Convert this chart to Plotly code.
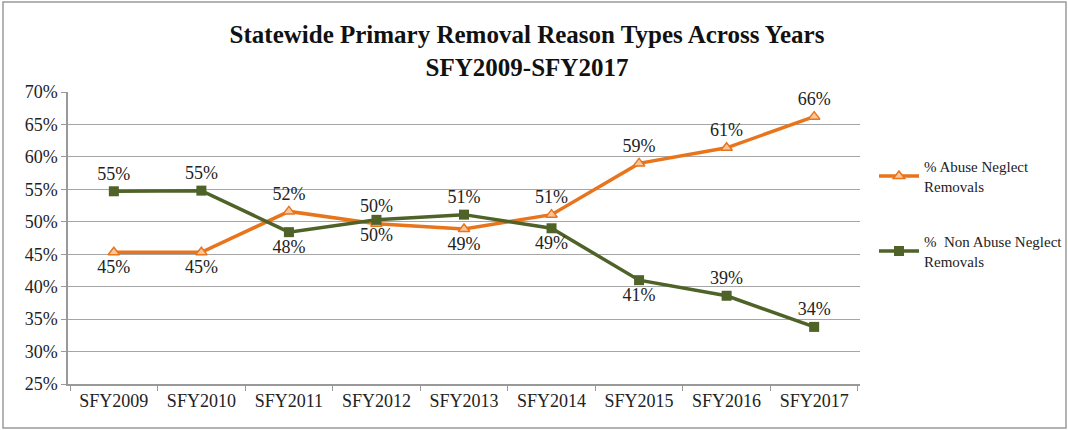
import plotly.graph_objects as go

years = ["SFY2009", "SFY2010", "SFY2011", "SFY2012", "SFY2013", "SFY2014", "SFY2015", "SFY2016", "SFY2017"]
abuse = [0.453, 0.453, 0.516, 0.497, 0.489, 0.511, 0.590, 0.614, 0.662]
non_abuse = [0.547, 0.548, 0.484, 0.503, 0.511, 0.490, 0.410, 0.386, 0.338]
abuse_pos = ["bottom center", "bottom center", "top center", "top center", "bottom center",
             "top center", "top center", "top center", "top center"]
non_pos = ["top center", "top center", "bottom center", "bottom center", "top center",
           "bottom center", "bottom center", "top center", "top center"]

W, H = 1068, 430
L, R, T, B = 68, 208, 92, 46
pw, ph = W - L - R, H - T - B

serif = "Liberation Serif, Times New Roman, serif"
orange = "#E8741C"
green = "#4F6228"

fig = go.Figure()
fig.add_trace(go.Scatter(
    x=years, y=abuse, mode="lines+markers+text", name="% Abuse Neglect<br>Removals",
    legendgroup="a",
    line=dict(color=orange, width=3.5),
    marker=dict(symbol="triangle-up", size=10, color="#F8C79E", line=dict(color=orange, width=1.5)),
    texttemplate="%{y:.0%}", textposition=abuse_pos,
    textfont=dict(family=serif, size=18, color="#222222"),
))
fig.add_trace(go.Scatter(
    x=years, y=non_abuse, mode="lines+markers+text", name="%  Non Abuse Neglect<br>Removals",
    legendgroup="b",
    line=dict(color=green, width=3.5),
    marker=dict(symbol="square", size=10, color=green),
    texttemplate="%{y:.0%}", textposition=non_pos,
    textfont=dict(family=serif, size=18, color="#222222"),
))

def px_x(p):
    return (p - L) / pw

def px_y(p):
    return (H - B - p) / ph

fig.update_layout(
    width=W, height=H,
    margin=dict(l=L, r=R, t=T, b=B),
    paper_bgcolor="white", plot_bgcolor="white",
    title=dict(text="<b>Statewide Primary Removal Reason Types Across Years<br>SFY2009-SFY2017</b>",
               x=527 / W, xanchor="center", y=1 - 43 / H, yanchor="middle",
               font=dict(family=serif, size=25, color="#111111")),
    font=dict(family=serif, size=15, color="#222222"),
    showlegend=True,
    legend=dict(xref="container", yref="container", x=874 / W, y=1 - 150 / H,
                xanchor="left", yanchor="top",
                font=dict(family=serif, size=15, color="#222222"),
                tracegroupgap=33, bgcolor="rgba(0,0,0,0)", itemwidth=40),
    xaxis=dict(type="category", tickson="boundaries", ticks="outside", ticklen=5,
               tickcolor="#999999", showline=True, linecolor="#999999", linewidth=1.5,
               showgrid=False, tickfont=dict(family=serif, size=18, color="#222222")),
    yaxis=dict(range=[0.25, 0.70], dtick=0.05, tickformat=".0%", showgrid=True,
               gridcolor="#A6A6A6", gridwidth=1.2, showline=True, linecolor="#999999", linewidth=1.5,
               ticks="outside", ticklen=5, tickcolor="#999999", zeroline=False,
               tickfont=dict(family=serif, size=18, color="#222222")),
)
fig.add_shape(type="rect", xref="paper", yref="paper",
              x0=px_x(3), x1=px_x(1066), y0=px_y(428), y1=px_y(2),
              line=dict(color="#9A9A9A", width=1.5), fillcolor="rgba(0,0,0,0)", layer="below")

fig.write_html("out.html", config={"displayModeBar": False},
               post_script="document.body.style.margin='0';")
